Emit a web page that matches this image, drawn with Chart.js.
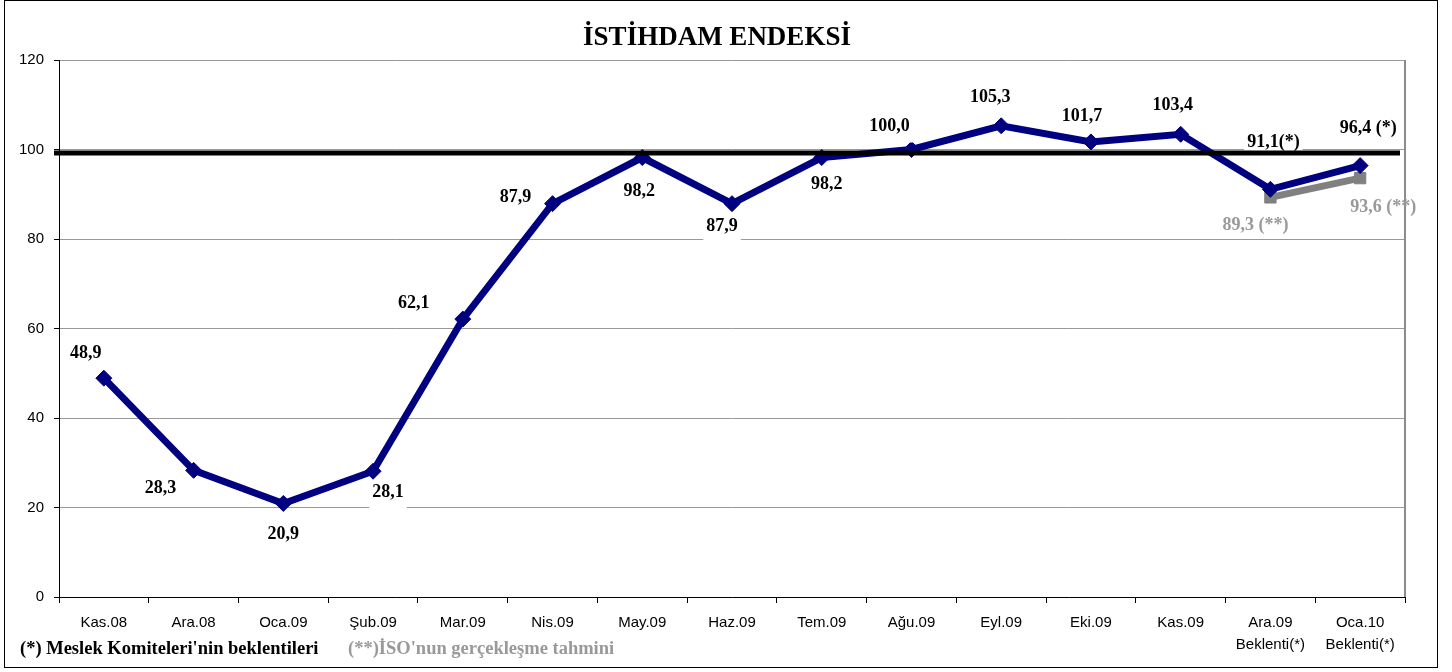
<!DOCTYPE html>
<html>
<head>
<meta charset="utf-8">
<script src="https://cdn.jsdelivr.net/npm/chart.js@4"></script>
<style>
  body { margin: 0; background: #fff; }
  #kutu { position: absolute; left: 4px; top: 0px; width: 1432px; height: 666px; border: 1px solid #000; }
</style>
</head>
<body>
<div id="kutu"><canvas id="grafik" width="1432" height="666"></canvas></div>
<script>
// Veriler
const baslik = 'İSTİHDAM ENDEKSİ';
const aylar = ['Kas.08', 'Ara.08', 'Oca.09', 'Şub.09', 'Mar.09', 'Nis.09', 'May.09', 'Haz.09', 'Tem.09', 'Ağu.09', 'Eyl.09', 'Eki.09', 'Kas.09', 'Ara.09', 'Oca.10'];
const ayNotlari = ['', '', '', '', '', '', '', '', '', '', '', '', '', 'Beklenti(*)', 'Beklenti(*)'];
const endeks = [48.9, 28.3, 20.9, 28.1, 62.1, 87.9, 98.2, 87.9, 98.2, 100.0, 105.3, 101.7, 103.4, 91.1, 96.4];
const endeksEkleri = ['', '', '', '', '', '', '', '', '', '', '', '', '', '(*)', ' (*)'];
const isoTahmin = [null, null, null, null, null, null, null, null, null, null, null, null, null, 89.3, 93.6];
const isoEkleri = ['', '', '', '', '', '', '', '', '', '', '', '', '', ' (**)', ' (**)'];
const referansSeviye = 99.2;
const yEksenMin = 0, yEksenMax = 120, yEksenAdim = 20;

// Etiket kaydirmalari (noktaya gore, piksel)
const endeksKaydirma = [[-18, -25], [-33, 18], [0, 31], [15, 21], [-49, -16], [-37, -6], [-3, 34], [-10, 23], [5, 27], [-22, -23], [-11, -28], [-9, -26], [-8, -29], [3, -47], [8, -37]];
const isoKaydirma = [null, null, null, null, null, null, null, null, null, null, null, null, null, [-15, 28], [23, 29]];

const etiketler = aylar.map((a, i) => ayNotlari[i] ? [a, ayNotlari[i]] : a);
const virgullu = v => v.toFixed(1).replace('.', ',');

// baslik ve sag kenar cizgisi
const sagKenar = {
    id: 'sagKenar',
    beforeDatasetsDraw(chart) {
        const { ctx, chartArea } = chart;
        ctx.save();
        ctx.strokeStyle = '#8c8c8c';
        ctx.lineWidth = 2;
        ctx.beginPath();
        ctx.moveTo(chartArea.right, chartArea.top);
        ctx.lineTo(chartArea.right, chartArea.bottom);
        ctx.stroke();

        ctx.font = 'bold 27px "Liberation Serif"';
        ctx.textAlign = 'center';
        ctx.textBaseline = 'middle';
        ctx.fillStyle = '#000';
        ctx.fillText(baslik, chart.width / 2 - 4, 37);
        ctx.restore();
    }
};

// Deger etiketleri ve dipnotlar
const degerEtiketleri = {
    id: 'degerEtiketleri',
    afterDatasetsDraw(chart) {
        const ctx = chart.ctx;
        ctx.save();
        ctx.font = 'bold 18px "Liberation Serif"';
        ctx.textAlign = 'center';
        ctx.textBaseline = 'middle';
        const ciz = (dsIndex, degerler, ekler, kaydirma, renk, zemin) => {
            const meta = chart.getDatasetMeta(dsIndex);
            degerler.forEach((v, i) => {
                if (v === null) return;
                const p = meta.data[i];
                const metin = virgullu(v) + ekler[i];
                const x = p.x + kaydirma[i][0];
                const y = p.y + kaydirma[i][1];
                if (zemin) {
                    const w = ctx.measureText(metin).width;
                    ctx.fillStyle = '#fff';
                    ctx.fillRect(x - w / 2 - 3, y - 12, w + 6, 28);
                }
                ctx.fillStyle = renk;
                ctx.fillText(metin, x, y);
            });
        };
        ciz(0, endeks, endeksEkleri, endeksKaydirma, '#000', true);
        ciz(1, isoTahmin, isoEkleri, isoKaydirma, '#999', false);

        // dipnotlar
        const alt = chart.chartArea.bottom + 52;
        ctx.font = 'bold 18.5px "Liberation Serif"';
        ctx.textAlign = 'left';
        ctx.fillStyle = '#000';
        ctx.fillText("(*) Meslek Komiteleri'nin beklentileri", 15, alt);
        ctx.fillStyle = '#999';
        ctx.fillText("(**)İSO'nun gerçekleşme tahmini", 343, alt);
        ctx.restore();
    }
};

// 100 cizgisi (en ustte)
const referansCizgi = {
    id: 'referansCizgi',
    afterDatasetsDraw(chart) {
        const { ctx, chartArea, scales } = chart;
        const y = scales.y.getPixelForValue(referansSeviye);
        ctx.save();
        ctx.strokeStyle = '#000';
        ctx.lineWidth = 5;
        ctx.beginPath();
        ctx.moveTo(chartArea.left - 5, y);
        ctx.lineTo(chartArea.right - 5, y);
        ctx.stroke();
        ctx.restore();
    }
};

const ctx = document.getElementById('grafik').getContext('2d');
new Chart(ctx, {
    type: 'line',
    data: {
        labels: etiketler,
        datasets: [
            {
                label: 'İstihdam Endeksi',
                data: endeks,
                borderColor: '#000080',
                backgroundColor: '#000080',
                borderWidth: 7,
                pointStyle: 'rectRot',
                pointRadius: 8,
                pointBorderWidth: 1,
                tension: 0,
                fill: false
            },
            {
                label: 'İSO tahmini',
                data: isoTahmin,
                borderColor: '#808080',
                backgroundColor: '#808080',
                borderWidth: 7,
                pointStyle: 'rect',
                pointRadius: 8,
                pointBorderWidth: 1,
                tension: 0,
                fill: false
            }
        ]
    },
    options: {
        responsive: false,
        animation: false,
        layout: { padding: { left: 0, right: 32, top: 59, bottom: 10 } },
        plugins: {
            legend: { display: false },
            tooltip: { enabled: false },
            title: { display: false }
        },
        scales: {
            x: {
                offset: true,
                afterFit: s => { s.height = 60; },
                grid: { display: true, drawOnChartArea: false, offset: true, tickLength: 6, tickColor: '#000' },
                border: { color: '#000', width: 1 },
                ticks: {
                    color: '#000',
                    padding: 9,
                    maxRotation: 0,
                    autoSkip: false,
                    font: { family: '"Liberation Sans"', size: 15, lineHeight: 1.47 }
                }
            },
            y: {
                min: yEksenMin,
                max: yEksenMax,
                afterFit: s => { s.width = 54; },
                grid: { color: '#999', lineWidth: 1, tickLength: 5, tickColor: '#000' },
                border: { color: '#000', width: 1 },
                ticks: {
                    stepSize: yEksenAdim,
                    color: '#000',
                    padding: 10,
                    font: { family: '"Liberation Sans"', size: 15 }
                }
            }
        }
    },
    plugins: [sagKenar, degerEtiketleri, referansCizgi]
});
</script>
</body>
</html>
